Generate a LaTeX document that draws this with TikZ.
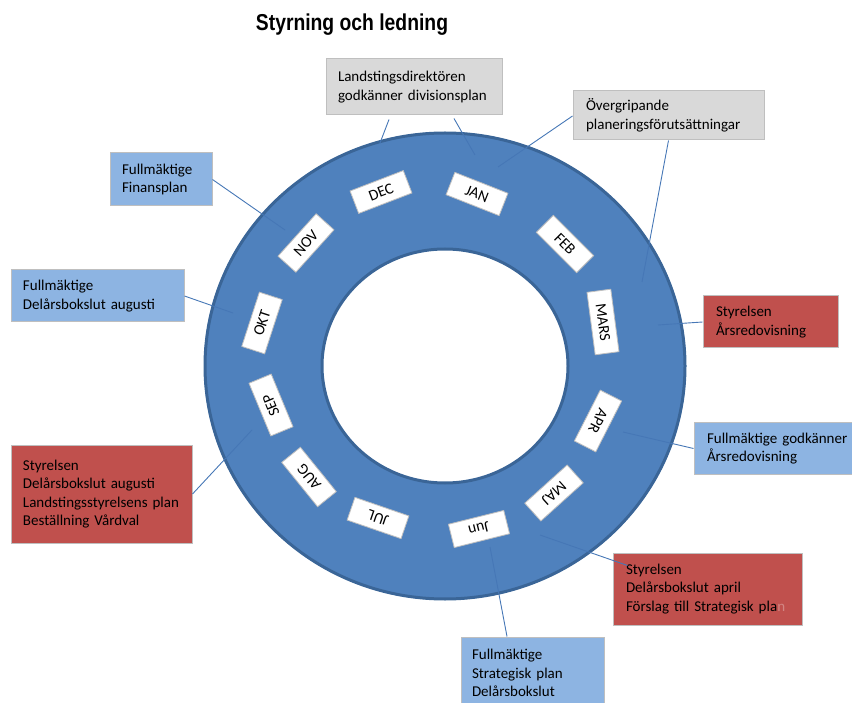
\documentclass[tikz,border=0pt]{standalone}
\usepackage{fontspec}
\setmainfont{Carlito}
\newfontfamily\titlefont{Liberation Sans}
\definecolor{ringfill}{HTML}{4F81BD}
\definecolor{ringedge}{HTML}{3A6597}
\definecolor{grayfill}{HTML}{D9D9D9}
\definecolor{bluefill}{HTML}{8DB4E2}
\definecolor{redfill}{HTML}{C0504D}
\definecolor{boxedge}{HTML}{BFBFBF}
\definecolor{linkc}{HTML}{4677B6}
\definecolor{fadedn}{HTML}{D28683}
\begin{document}
\hyphenpenalty=10000
\exhyphenpenalty=10000
\begin{tikzpicture}[x=1pt,y=-1pt,
  infobox/.style={draw=boxedge, line width=1pt, inner xsep=12pt, inner ysep=0pt,
    align=left, text=black, font=\fontsize{15}{18.5}\selectfont},
  graybox/.style={infobox, fill=grayfill},
  bluebox/.style={infobox, fill=bluefill},
  redbox/.style={infobox, fill=redfill},
  monthbox/.style={draw=boxedge, line width=0.8pt, fill=white, minimum width=57pt,
    minimum height=24pt, inner sep=0pt, text=black, font=\fontsize{15.5}{17}\selectfont},
  link/.style={draw=linkc, line width=0.9pt}]
\useasboundingbox (0,0) rectangle (852,703);

% title
\node[anchor=base, font=\titlefont\bfseries\fontsize{23}{27}\selectfont, xscale=0.84] (title) at (352,31) {Styrning och ledning};

% ring
\coordinate (ctr) at (445,366);
\fill[ringfill, even odd rule] (ctr) ellipse [x radius=241, y radius=234] (ctr) ellipse [x radius=123, y radius=117];
\draw[ringedge, line width=3pt] (ctr) ellipse [x radius=240, y radius=233];
\draw[ringedge, line width=3pt] (ctr) ellipse [x radius=123, y radius=117];

% info boxes
\node[graybox, minimum width=176pt, minimum height=56pt, text width=152pt] (landst) at (414,87)
  {\mbox{Landstingsdirektören}\\\mbox{godkänner divisionsplan}};
\node[graybox, minimum width=191pt, minimum height=49pt, text width=165pt, inner xsep=13pt] (overg) at (668.5,115.5)
  {\mbox{Övergripande}\\\mbox{planeringsförutsättningar}};
\node[bluebox, minimum width=102pt, minimum height=53pt, text width=78pt] (finans) at (161,179.5)
  {\mbox{Fullmäktige}\\\mbox{Finansplan}};
\node[bluebox, minimum width=173pt, minimum height=52pt, text width=149pt] (delaug) at (97.5,296)
  {\mbox{Fullmäktige}\\\mbox{Delårsbokslut augusti}};
\node[redbox, minimum width=135pt, minimum height=52pt, text width=109pt, inner xsep=13pt] (styars) at (770.5,322)
  {\mbox{Styrelsen}\\\mbox{Årsredovisning}};
\node[bluebox, minimum width=166pt, minimum height=51pt, text width=140pt, inner xsep=13pt] (fullgod) at (777,448.5)
  {\mbox{Fullmäktige godkänner}\\\mbox{Årsredovisning}};
\node[redbox, minimum width=181pt, minimum height=98pt, text width=157pt] (stydelaug) at (101.5,494)
  {\mbox{Styrelsen}\\\mbox{Delårsbokslut augusti}\\\mbox{Landstingsstyrelsens plan}\\\mbox{Beställning Vårdval}};
\node[redbox, minimum width=189pt, minimum height=72pt, text width=163pt, inner xsep=13pt] (stydelapr) at (707.5,589)
  {\mbox{Styrelsen}\\\mbox{Delårsbokslut april}\\\mbox{Förslag till Strategisk pla{\color{fadedn}n}}};
\node[bluebox, minimum width=143pt, minimum height=72pt, text width=121pt, inner xsep=11pt] (fullstrat) at (532.5,673)
  {\mbox{Fullmäktige}\\\mbox{Strategisk plan}\\\mbox{Delårsbokslut}};

% ring end points of connectors
\coordinate (r1) at (380,143);
\coordinate (r2) at (475,155);
\coordinate (r3) at (498,167);
\coordinate (r4) at (642,282);
\coordinate (r5) at (285,230);
\coordinate (r6) at (233,313);
\coordinate (r7) at (658,325);
\coordinate (r8) at (623,432);
\coordinate (r9) at (252,430);
\coordinate (r10) at (540,535);
\coordinate (r11) at (490,547);

% connectors
\draw[link] ([xshift=-25pt,yshift=-4pt]landst.south) -- (r1);
\draw[link] ([xshift=40pt,yshift=-3pt]landst.south) -- (r2);
\draw[link] ([yshift=-0.5pt]overg.west) -- (r3);
\draw[link] (overg.south) -- (r4);
\draw[link] (finans.east) -- (r5);
\draw[link] (delaug.east) -- (r6);
\draw[link] (styars.west) -- (r7);
\draw[link] (fullgod.west) -- (r8);
\draw[link] (stydelaug.east) -- (r9);
\draw[link] ([xshift=15pt,yshift=-13pt]stydelapr.north west) -- (r10);
\draw[link] ([xshift=-25.5pt]fullstrat.north) -- (r11);

% month labels
\node[monthbox, rotate=-21.5] (jan) at (477,194) {JAN};
\node[monthbox, rotate=-45] (feb) at (565,244) {FEB};
\node[monthbox, rotate=-82.5, minimum width=63pt] (mars) at (603,322) {MARS};
\node[monthbox, rotate=-117] (apr) at (598,421) {APR};
\node[monthbox, rotate=-138] (maj) at (554,493) {MAJ};
\node[monthbox, rotate=-166] (jun) at (479,529) {Jun};
\node[monthbox, rotate=161] (jul) at (378,518) {JUL};
\node[monthbox, rotate=129] (aug) at (309,477) {AUG};
\node[monthbox, rotate=112.5] (sep) at (271,405) {SEP};
\node[monthbox, rotate=72] (okt) at (262,323) {OKT};
\node[monthbox, rotate=48] (nov) at (306,243) {NOV};
\node[monthbox, rotate=21] (dec) at (381,192) {DEC};
\end{tikzpicture}
\end{document}
